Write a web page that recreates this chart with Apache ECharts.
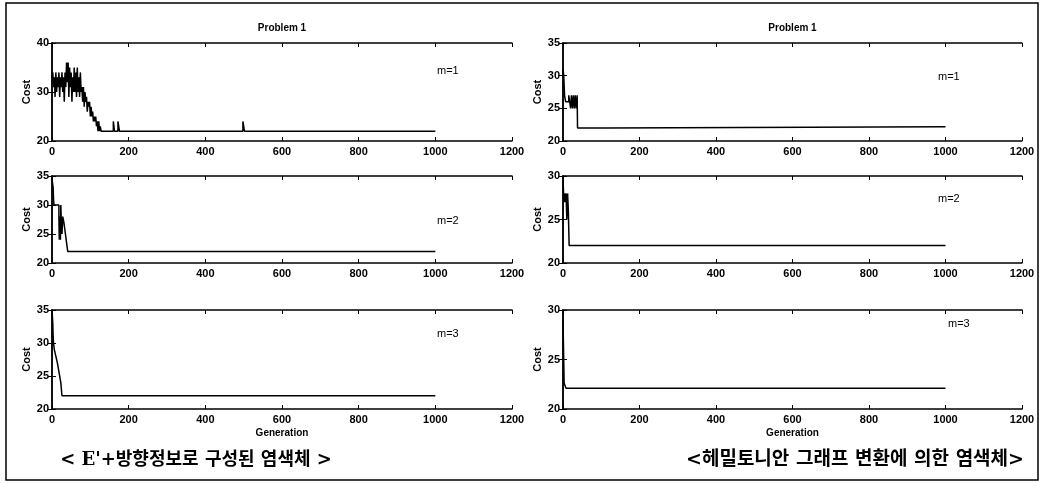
<!DOCTYPE html>
<html lang="ko">
<head>
<meta charset="UTF-8">
<title>Problem 1</title>
<script src="https://cdn.jsdelivr.net/npm/echarts@6/dist/echarts.min.js"></script>
<style>
  html, body { margin: 0; padding: 0; background: #fff; }
  #charts { width: 1041px; height: 483px; }
</style>
</head>
<body>
<div id="charts"></div>
<script>
// x 축 눈금 (Generation)
var xTicks = [0, 200, 400, 600, 800, 1000, 1200];

// 왼쪽: E'+방향정보로 구성된 염색체, [generation, cost]
var leftM1 = [
  [0, 33], [2, 34], [4, 31], [6, 33], [8, 29], [10, 34], [12, 30], [14, 33], [16, 31], [18, 34],
  [20, 29], [22, 33], [24, 31], [26, 34], [28, 30], [30, 33], [32, 28], [34, 34], [36, 31], [38, 36],
  [40, 32], [42, 36], [44, 29], [46, 35], [48, 31], [50, 34], [52, 28], [54, 33], [56, 30], [58, 35],
  [60, 30], [62, 34], [64, 29], [66, 35], [68, 30], [70, 33], [72, 29], [74, 34], [76, 30], [78, 31],
  [80, 28], [82, 31], [84, 27], [86, 30], [88, 28], [90, 29], [92, 26], [94, 28], [96, 27], [98, 28],
  [100, 25], [102, 27], [104, 25], [106, 26], [108, 24], [110, 25], [112, 24], [114, 25], [116, 23], [118, 24],
  [120, 22], [122, 24], [124, 22], [126, 23], [128, 22], [160, 24], [163, 22], [172, 24], [176, 22],
  [498, 24], [502, 22], [1000, 22]
];
var leftM2 = [
  [0, 35], [1, 34], [3, 33], [4, 31], [5, 30], [18, 28], [19, 24], [20, 28], [22, 24], [23, 30],
  [24, 28], [26, 25], [28, 28], [31, 27], [33, 26], [35, 25], [37, 24], [39, 23], [41, 22], [1000, 22]
];
var leftM3 = [
  [0, 35], [2, 33], [3, 31], [4, 30], [6, 29], [10, 28], [14, 27], [17, 26], [20, 25], [23, 24],
  [26, 22], [1000, 22]
];

// 오른쪽: 헤밀토니안 그래프 변환에 의한 염색체
var rightM1 = [
  [0, 31], [2, 30], [4, 27], [7, 26], [12, 26], [15, 27], [20, 25], [22, 27], [25, 25], [27, 27],
  [30, 25], [32, 27], [35, 25], [37, 27], [38, 22], [112, 22.2], [1000, 22.2]
];
var rightM2 = [
  [0, 30], [2, 27], [4, 28], [6, 27], [8, 28], [10, 25], [12, 28], [14, 26], [16, 22], [1000, 22]
];
var rightM3 = [
  [0, 29], [3, 22.6], [8, 22.1], [1000, 22.1]
];

// y 축 범위
var yMaxes = [40, 35, 35, 35, 30, 30];
var yIntervals = [10, 5, 5, 5, 5, 5];
var seriesData = [leftM1, leftM2, leftM3, rightM1, rightM2, rightM3];
var mLabels = ['m=1', 'm=2', 'm=3', 'm=1', 'm=2', 'm=3'];
var mPos = [[385, 22], [385, 39], [385, 18], [375, 28], [375, 17], [385, 8]];

var cols = [{left: 52, width: 460}, {left: 563, width: 459}];
var rows = [{top: 43, height: 98}, {top: 176, height: 87}, {top: 310, height: 99}];

var font = 'Liberation Sans, Arial, sans-serif';
var grids = [], xAxes = [], yAxes = [], series = [], graphics = [];

function plain(v) { return String(v); }

for (var i = 0; i < 6; i++) {
  var c = cols[Math.floor(i / 3)], r = rows[i % 3];
  grids.push({left: c.left, top: r.top, width: c.width, height: r.height, containLabel: false});
  var tick = {show: true, inside: true, length: 4, lineStyle: {color: '#000', width: 1}};
  var axLine = {show: true, lineStyle: {color: '#000', width: 1.5}};
  var lab = {color: '#000', fontFamily: font, fontWeight: 'bold', fontSize: 11, formatter: plain};
  xAxes.push({
    gridIndex: i, type: 'value', min: xTicks[0], max: xTicks[xTicks.length - 1], interval: 200, position: 'bottom',
    axisLine: axLine, axisTick: tick, splitLine: {show: false},
    axisLabel: Object.assign({margin: 5}, lab),
    name: (i % 3 === 2) ? 'Generation' : '', nameLocation: 'middle', nameGap: 19,
    nameTextStyle: {color: '#000', fontFamily: font, fontWeight: 'bold', fontSize: 10}
  });
  xAxes.push({
    gridIndex: i, type: 'value', min: xTicks[0], max: xTicks[xTicks.length - 1], interval: 200, position: 'top',
    axisLine: axLine, axisTick: tick, axisLabel: {show: false}, splitLine: {show: false}
  });
  yAxes.push({
    gridIndex: i, type: 'value', min: 20, max: yMaxes[i], interval: yIntervals[i], position: 'left',
    axisLine: axLine, axisTick: tick, splitLine: {show: false},
    axisLabel: Object.assign({margin: 3}, lab),
    name: 'Cost', nameLocation: 'middle', nameGap: 19,
    nameTextStyle: {color: '#000', fontFamily: font, fontWeight: 'bold', fontSize: 11}
  });
  yAxes.push({
    gridIndex: i, type: 'value', min: 20, max: yMaxes[i], interval: yIntervals[i], position: 'right',
    axisLine: axLine, axisTick: tick, axisLabel: {show: false}, splitLine: {show: false}
  });
  series.push({
    type: 'line', xAxisIndex: 2 * i, yAxisIndex: 2 * i, data: seriesData[i],
    step: 'end', symbol: 'none', animation: false,
    lineStyle: {color: '#000', width: 1.5}
  });
  graphics.push({
    type: 'text', left: c.left + mPos[i][0], top: r.top + mPos[i][1],
    style: {text: mLabels[i], fill: '#000', font: '11px ' + font}
  });
}

// 제목
[0, 1].forEach(function (k) {
  graphics.push({
    type: 'text', x: cols[k].left + cols[k].width / 2, y: 28,
    style: {text: 'Problem 1', fill: '#000', font: 'bold 10px ' + font, textAlign: 'center', textVerticalAlign: 'middle'}
  });
});

// 하단 설명
var captions = ["< E'+방향정보로 구성된 염색체 >", '<헤밀토니안 그래프 변환에 의한 염색체>'];
var captionX = [196, 855];
var captionSize = [18, 19];
captions.forEach(function (t, k) {
  graphics.push({
    type: 'text', x: captionX[k], y: 460,
    style: {text: t, fill: '#000', font: 'bold ' + captionSize[k] + 'px "DejaVu Serif", "Noto Sans CJK KR"', textAlign: 'center', textVerticalAlign: 'middle'}
  });
});

// 바깥 테두리
graphics.push({
  type: 'rect', shape: {x: 6, y: 3, width: 1032, height: 477},
  style: {fill: 'none', stroke: '#000', lineWidth: 1.5}, z: 10
});

var myChart = echarts.init(document.getElementById('charts'), null, {renderer: 'canvas'});
myChart.setOption({
  animation: false,
  backgroundColor: '#fff',
  grid: grids,
  xAxis: xAxes,
  yAxis: yAxes,
  series: series,
  graphic: graphics
});
</script>
</body>
</html>
